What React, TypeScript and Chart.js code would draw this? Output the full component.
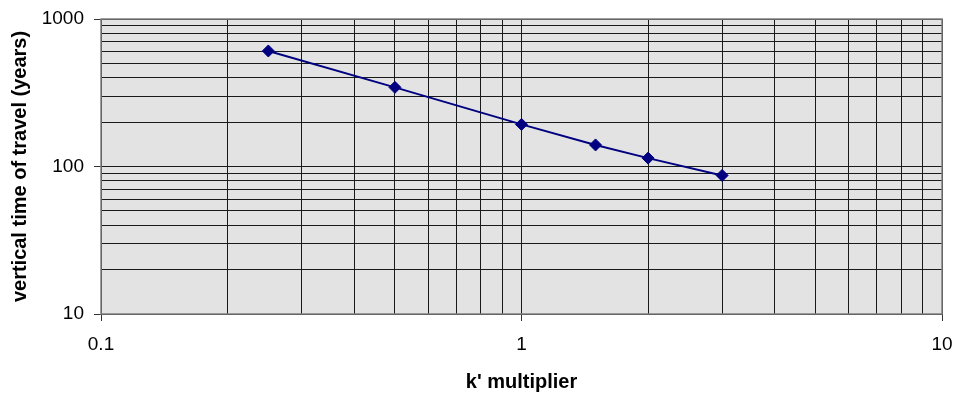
import React, { useEffect, useRef } from "react";
import { Chart, registerables } from "chart.js";

Chart.register(...registerables);

const K_MULTIPLIER = [0.25, 0.5, 1, 1.5, 2, 3];
const TRAVEL_YEARS = [607, 344, 193, 140, 114, 87];

const X_GRID = [0.1, 0.2, 0.3, 0.4, 0.5, 0.6, 0.7, 0.8, 0.9, 1, 2, 3, 4, 5, 6, 7, 8, 9, 10];
const X_LABELED = [0.1, 1, 10];
const Y_GRID = [10, 20, 30, 40, 50, 60, 70, 80, 90, 100, 200, 300, 400, 500, 600, 700, 800, 900, 1000];
const Y_LABELED = [10, 100, 1000];

const X_TITLE = "k' multiplier";
const Y_TITLE = "vertical time of travel (years)";

const FONT = 'Arial, "Liberation Sans", sans-serif';

const plotBg = {
  id: "plotBg",
  beforeDraw(chart: any) {
    const { ctx, chartArea } = chart;
    const { left, top, width, height } = chartArea;
    ctx.save();
    ctx.fillStyle = "#e3e3e3";
    ctx.fillRect(left, top, width, height);
    ctx.restore();
  },
  beforeDatasetsDraw(chart: any) {
    const { ctx, chartArea } = chart;
    const { left, top, right, bottom } = chartArea;
    ctx.save();
    ctx.strokeStyle = "#808080";
    ctx.lineWidth = 1.5;
    ctx.strokeRect(left, top, right - left, bottom - top);
    ctx.restore();
  },
};

export default function App() {
  const ref = useRef<HTMLCanvasElement | null>(null);

  useEffect(() => {
    if (!ref.current) return;
    Chart.defaults.font.family = FONT;
    const data = K_MULTIPLIER.map((x, i) => ({ x, y: TRAVEL_YEARS[i] }));
    const chart = new Chart(ref.current, {
      type: "line",
      data: {
        datasets: [
          {
            data,
            borderColor: "#000080",
            backgroundColor: "#000080",
            borderWidth: 2,
            pointStyle: "rectRot",
            pointRadius: 6,
            pointBorderWidth: 1,
            pointBackgroundColor: "#000080",
            pointBorderColor: "#000080",
            tension: 0,
            fill: false,
          },
        ],
      },
      options: {
        animation: false,
        responsive: false,
        maintainAspectRatio: false,
        layout: { padding: { top: 19, right: 16, left: 0, bottom: 0 } },
        plugins: {
          legend: { display: false },
          tooltip: { enabled: false },
        },
        scales: {
          x: {
            type: "logarithmic",
            min: 0.1,
            max: 10,
            afterBuildTicks: (scale: any) => {
              scale.ticks = X_GRID.map((v) => ({ value: v }));
            },
            afterFit: (scale: any) => {
              scale.height = 84;
              scale.paddingLeft = 0;
              scale.paddingRight = 0;
            },
            border: { display: false },
            grid: {
              color: "#1a1a1a",
              lineWidth: 1,
              tickLength: 7,
              tickColor: (ctx: any) =>
                ctx.tick && X_LABELED.includes(ctx.tick.value) ? "#333" : "rgba(0,0,0,0)",
            },
            ticks: {
              autoSkip: false,
              maxRotation: 0,
              padding: 12,
              color: "#000",
              font: { size: 19, family: FONT },
              callback: (v: any) => (X_LABELED.includes(Number(v)) ? String(v) : ""),
            },
            title: {
              display: true,
              text: X_TITLE,
              color: "#000",
              font: { size: 20, weight: "bold", family: FONT },
              padding: { top: 0, bottom: 4 },
            },
          },
          y: {
            type: "logarithmic",
            min: 10,
            max: 1000,
            afterBuildTicks: (scale: any) => {
              scale.ticks = Y_GRID.map((v) => ({ value: v }));
            },
            afterFit: (scale: any) => {
              scale.width = 101;
              scale.paddingTop = 0;
              scale.paddingBottom = 0;
            },
            border: { display: false },
            grid: {
              color: "#1a1a1a",
              lineWidth: 1,
              tickLength: 7,
              tickColor: (ctx: any) =>
                ctx.tick && Y_LABELED.includes(ctx.tick.value) ? "#333" : "rgba(0,0,0,0)",
            },
            ticks: {
              autoSkip: false,
              padding: 10,
              color: "#000",
              font: { size: 19, family: FONT },
              callback: (v: any) => (Y_LABELED.includes(Number(v)) ? String(v) : ""),
            },
            title: {
              display: true,
              text: Y_TITLE,
              color: "#000",
              font: { size: 20, weight: "bold", family: FONT },
              padding: { top: 8, bottom: 0 },
            },
          },
        },
      },
      plugins: [plotBg],
    } as any);
    return () => chart.destroy();
  }, []);

  return (
    <div style={{ position: "absolute", left: 0, top: 0, width: 958, height: 398, background: "#fff" }}>
      <canvas ref={ref} width={958} height={398} style={{ display: "block", width: 958, height: 398 }} />
    </div>
  );
}
